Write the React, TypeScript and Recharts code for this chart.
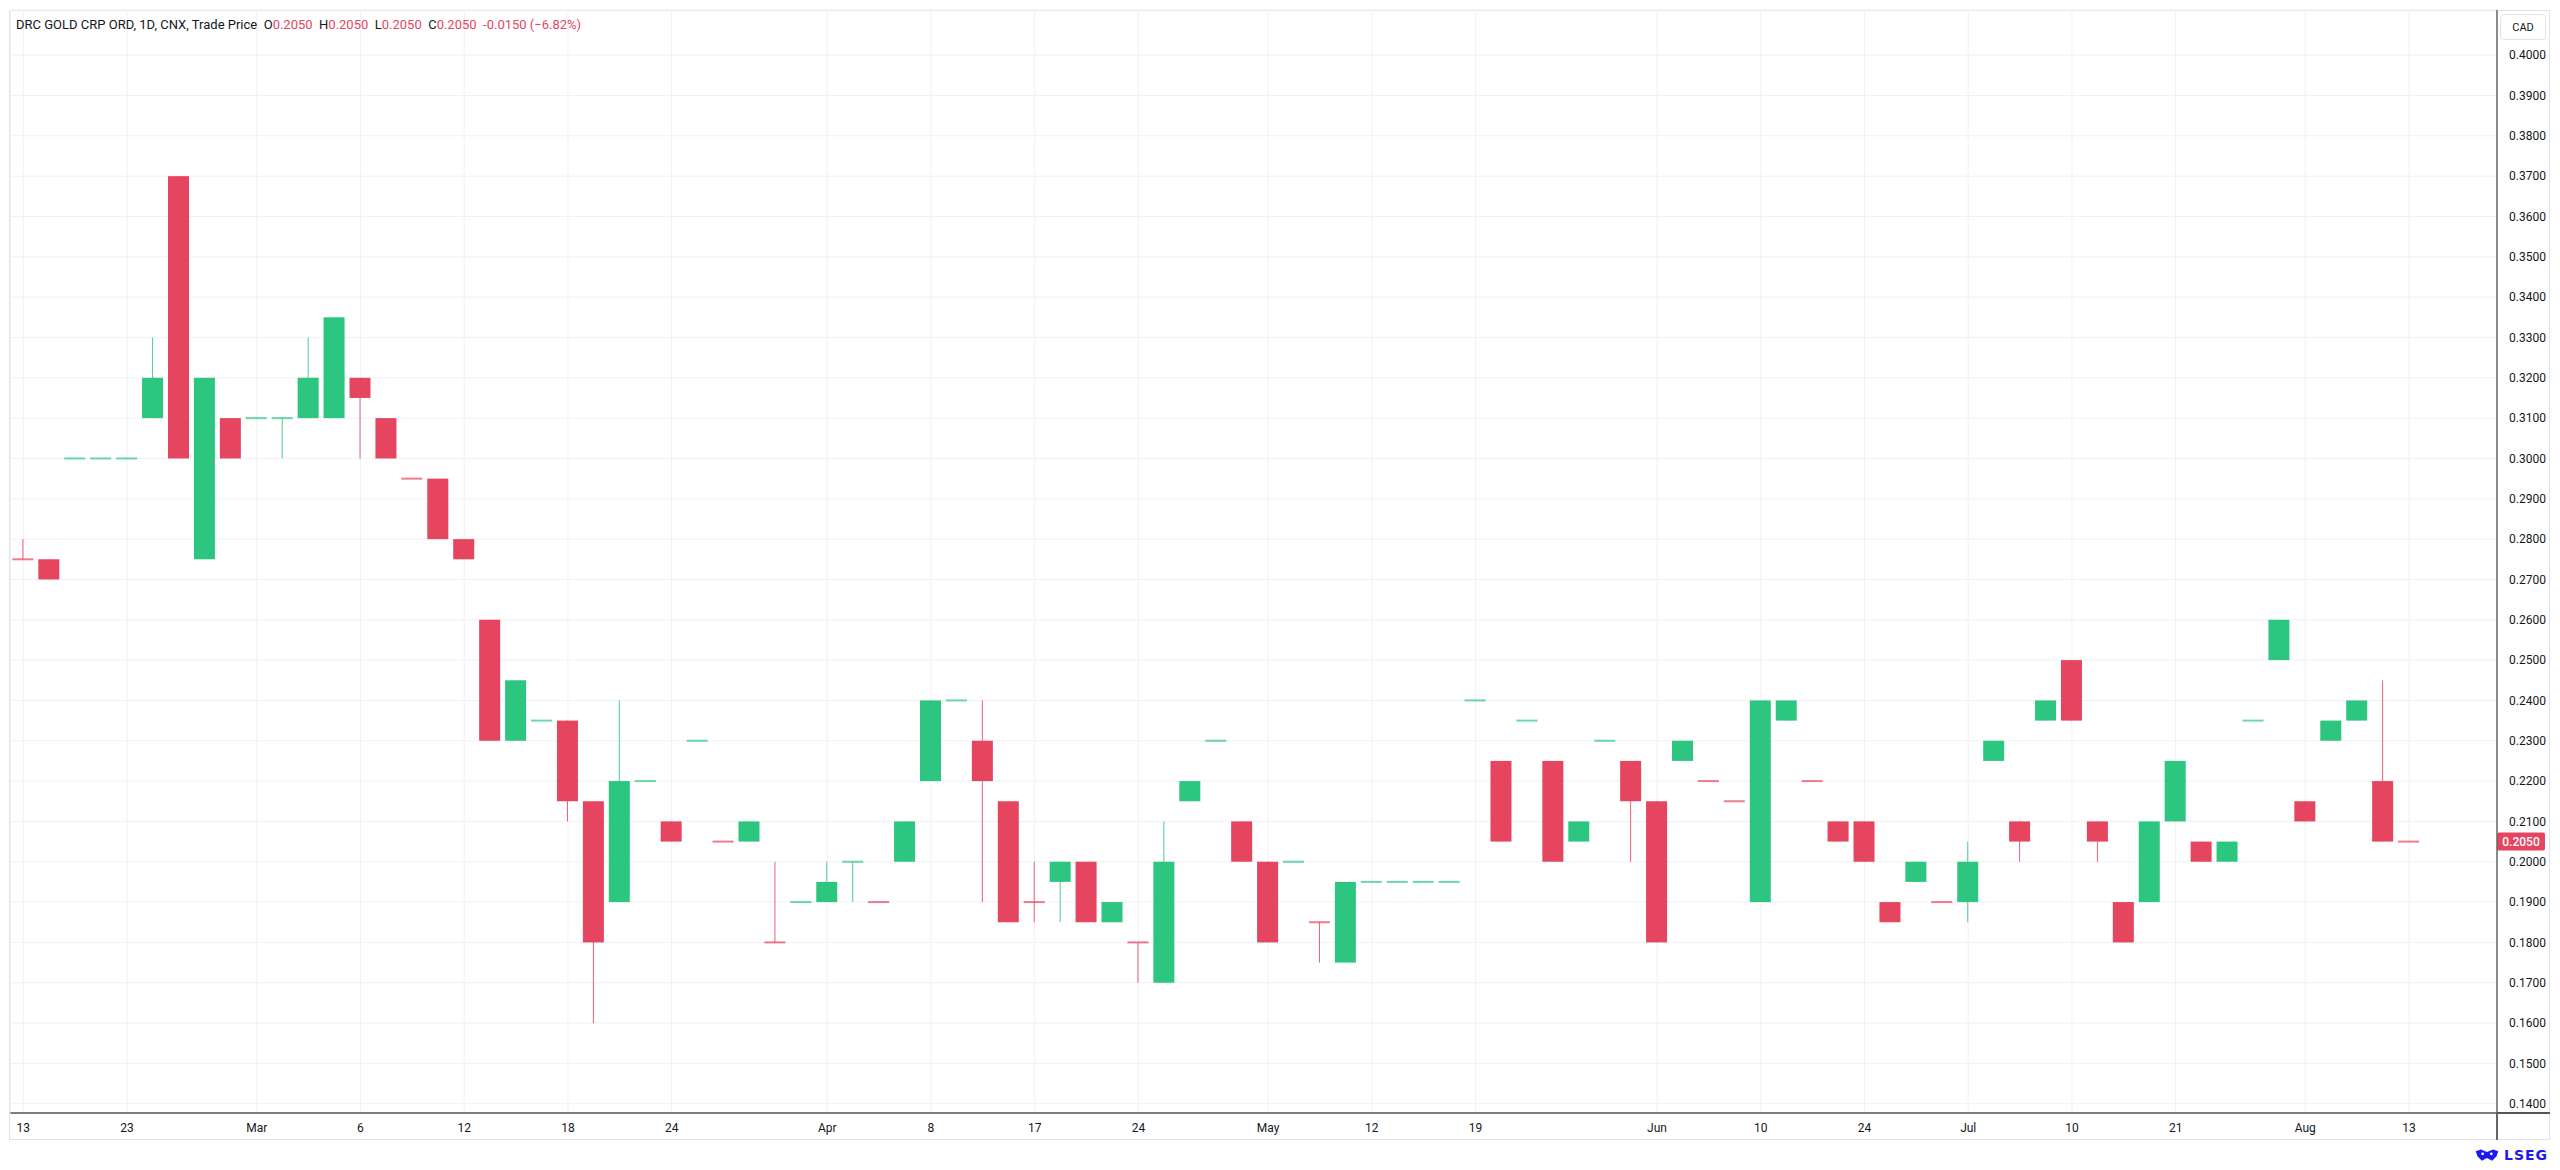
import React from 'react';
import { ComposedChart, Bar, XAxis, YAxis, CartesianGrid, ReferenceLine } from 'recharts';

const UP = '#2DC681';
const DOWN = '#E5455F';
const TEXT = '#131722';

const opens = [
  0.275, 0.275, 0.30, 0.30, 0.30, 0.31, 0.37, 0.275, 0.31, 0.31,
  0.31, 0.31, 0.31, 0.32, 0.31, 0.295, 0.295, 0.28, 0.26, 0.23,
  0.235, 0.235, 0.215, 0.19, 0.22, 0.21, 0.23, 0.205, 0.205, 0.18,
  0.19, 0.19, 0.20, 0.19, 0.20, 0.22, 0.24, 0.23, 0.215, 0.19,
  0.195, 0.20, 0.185, 0.18, 0.17, 0.215, 0.23, 0.21, 0.20, 0.20,
  0.185, 0.175, 0.195, 0.195, 0.195, 0.195, 0.24, 0.225, 0.235, 0.225,
  0.205, 0.23, 0.225, 0.215, 0.225, 0.22, 0.215, 0.19, 0.235, 0.22,
  0.21, 0.21, 0.19, 0.195, 0.19, 0.19, 0.225, 0.21, 0.235, 0.25,
  0.21, 0.19, 0.19, 0.21, 0.205, 0.20, 0.235, 0.25, 0.215, 0.23,
  0.235, 0.22, 0.205,
];
const highs = [
  0.28, 0.275, 0.30, 0.30, 0.30, 0.33, 0.37, 0.32, 0.31, 0.31,
  0.31, 0.33, 0.335, 0.32, 0.31, 0.295, 0.295, 0.28, 0.26, 0.245,
  0.235, 0.235, 0.215, 0.24, 0.22, 0.21, 0.23, 0.205, 0.21, 0.20,
  0.19, 0.20, 0.20, 0.19, 0.21, 0.24, 0.24, 0.24, 0.215, 0.20,
  0.20, 0.20, 0.19, 0.18, 0.21, 0.22, 0.23, 0.21, 0.20, 0.20,
  0.185, 0.195, 0.195, 0.195, 0.195, 0.195, 0.24, 0.225, 0.235, 0.225,
  0.21, 0.23, 0.225, 0.215, 0.23, 0.22, 0.215, 0.24, 0.24, 0.22,
  0.21, 0.21, 0.19, 0.20, 0.19, 0.205, 0.23, 0.21, 0.24, 0.25,
  0.21, 0.19, 0.21, 0.225, 0.205, 0.205, 0.235, 0.26, 0.215, 0.235,
  0.24, 0.245, 0.205,
];
const lows = [
  0.275, 0.27, 0.30, 0.30, 0.30, 0.31, 0.30, 0.275, 0.30, 0.31,
  0.30, 0.31, 0.31, 0.30, 0.30, 0.295, 0.28, 0.275, 0.23, 0.23,
  0.235, 0.21, 0.16, 0.19, 0.22, 0.205, 0.23, 0.205, 0.205, 0.18,
  0.19, 0.19, 0.19, 0.19, 0.20, 0.22, 0.24, 0.19, 0.185, 0.185,
  0.185, 0.185, 0.185, 0.17, 0.17, 0.215, 0.23, 0.20, 0.18, 0.20,
  0.175, 0.175, 0.195, 0.195, 0.195, 0.195, 0.24, 0.205, 0.235, 0.20,
  0.205, 0.23, 0.20, 0.18, 0.225, 0.22, 0.215, 0.19, 0.235, 0.22,
  0.205, 0.20, 0.185, 0.195, 0.19, 0.185, 0.225, 0.20, 0.235, 0.235,
  0.20, 0.18, 0.19, 0.21, 0.20, 0.20, 0.235, 0.25, 0.21, 0.23,
  0.235, 0.205, 0.205,
];
const closes = [
  0.275, 0.27, 0.30, 0.30, 0.30, 0.32, 0.30, 0.32, 0.30, 0.31,
  0.31, 0.32, 0.335, 0.315, 0.30, 0.295, 0.28, 0.275, 0.23, 0.245,
  0.235, 0.215, 0.18, 0.22, 0.22, 0.205, 0.23, 0.205, 0.21, 0.18,
  0.19, 0.195, 0.20, 0.19, 0.21, 0.24, 0.24, 0.22, 0.185, 0.19,
  0.20, 0.185, 0.19, 0.18, 0.20, 0.22, 0.23, 0.20, 0.18, 0.20,
  0.185, 0.195, 0.195, 0.195, 0.195, 0.195, 0.24, 0.205, 0.235, 0.20,
  0.21, 0.23, 0.215, 0.18, 0.23, 0.22, 0.215, 0.24, 0.24, 0.22,
  0.205, 0.20, 0.185, 0.20, 0.19, 0.20, 0.23, 0.205, 0.24, 0.235,
  0.205, 0.18, 0.21, 0.225, 0.20, 0.205, 0.235, 0.26, 0.21, 0.235,
  0.24, 0.205, 0.205,
];
// u = up colour, d = down colour (as drawn)
const directions =
  'dduuuududu' + 'uuuddddddu' + 'udduududud' + 'uuuduuuddd' + 'ududuuuddu' +
  'duuuuuudud' + 'uuddudduud' + 'ddduduudud' + 'dduuduuudu' + 'udd';

const tickSlots = [0, 4, 9, 13, 17, 21, 25, 31, 35, 39, 43, 48, 52, 56, 63, 67, 71, 75, 79, 83, 88, 92];
const tickLabels = ['13', '23', 'Mar', '6', '12', '18', '24', 'Apr', '8', '17', '24', 'May', '12', '19', 'Jun', '10', '24', 'Jul', '10', '21', 'Aug', '13'];
const priceTicks = [
  0.14, 0.15, 0.16, 0.17, 0.18, 0.19, 0.20, 0.21, 0.22, 0.23, 0.24, 0.25, 0.26, 0.27,
  0.28, 0.29, 0.30, 0.31, 0.32, 0.33, 0.34, 0.35, 0.36, 0.37, 0.38, 0.39, 0.40,
];
const priceDomain = [0.1377, 0.4112];

const data = opens.map((o, i) => ({
  slot: i,
  body: [Math.min(o, closes[i]), Math.max(o, closes[i])],
  wick: [lows[i], highs[i]],
  up: directions[i] === 'u',
}));

const lastClose = closes[closes.length - 1];

const W = 2544;
const H = 1132;
const PLOT_RIGHT = 2489;
const FONT = 'Roboto, "Noto Sans", sans-serif';

const BodyShape = (p: any) => {
  const { x, y, width, height, payload } = p;
  const color = payload && payload.up ? UP : DOWN;
  const top = Math.min(y, y + height);
  const h = Math.abs(height);
  if (!(h >= 1.5)) {
    return <rect x={x} y={top - 1} width={width} height={2} fill={color} fillOpacity={0.7} />;
  }
  return <rect x={x} y={top} width={width} height={h} fill={color} />;
};

const WickShape = (p: any) => {
  const { x, y, width, height, payload } = p;
  const color = payload && payload.up ? UP : DOWN;
  const h = Math.abs(height || 0);
  if (h < 0.5) return <g />;
  const top = Math.min(y, y + height);
  return <rect x={x + width / 2 - 0.5} y={top} width={1} height={h} fill={color} fillOpacity={0.85} />;
};

const PriceTag = (p: any) => {
  const vb = p.viewBox || {};
  const y = vb.y;
  return (
    <g>
      <rect x={PLOT_RIGHT} y={y - 9} width={48} height={18} rx={2} fill={DOWN} />
      <text x={PLOT_RIGHT + 24} y={y} textAnchor="middle" dominantBaseline="central" fill="#fff" fontSize={12} fontFamily={FONT} fontWeight={500}>
        {lastClose.toFixed(4)}
      </text>
    </g>
  );
};

const red = { color: DOWN };

export default function App() {
  return (
    <div style={{ position: 'relative', width: W, height: 1154, fontFamily: FONT, background: '#fff' }}>
      <div style={{ position: 'absolute', left: 1, top: 2, width: 2541, height: 1130, border: '1px solid #E0E3EB', boxSizing: 'border-box' }} />
      <ComposedChart width={W} height={H} data={data} margin={{ top: 2, right: 0, bottom: 0, left: 2.4 }}>
        <CartesianGrid xAxisId="main" stroke="#F0F1F4" strokeWidth={1} />
        <XAxis
          xAxisId="main"
          dataKey="slot"
          type="category"
          ticks={tickSlots}
          interval={0}
          tickFormatter={(v: number) => tickLabels[tickSlots.indexOf(v)]}
          padding={{ left: 0, right: 75 }}
          height={27}
          axisLine={{ stroke: '#555', strokeWidth: 1.5 }}
          tickLine={false}
          tickMargin={4}
          tick={{ fontSize: 12, fill: TEXT, fontFamily: FONT }}
        />
        <XAxis xAxisId="wick" dataKey="slot" type="category" hide padding={{ left: 0, right: 75 }} />
        <YAxis
          orientation="right"
          type="number"
          domain={priceDomain}
          allowDataOverflow
          ticks={priceTicks}
          interval={0}
          tickFormatter={(v: number) => v.toFixed(4)}
          width={55}
          axisLine={{ stroke: '#666', strokeWidth: 1.5 }}
          tickLine={false}
          tickMargin={6}
          tick={{ fontSize: 12, fill: TEXT, fontFamily: FONT, textAnchor: 'start' }}
        />
        <Bar xAxisId="wick" dataKey="wick" barSize={21} shape={WickShape} isAnimationActive={false} />
        <Bar xAxisId="main" dataKey="body" barSize={21} shape={BodyShape} isAnimationActive={false} />
        <ReferenceLine xAxisId="main" y={lastClose} stroke="none" ifOverflow="visible" label={PriceTag} />
      </ComposedChart>
      <div style={{ position: 'absolute', left: PLOT_RIGHT - 0.75, top: 1105, width: 1.5, height: 27, background: '#666' }} />
      <div style={{ position: 'absolute', left: PLOT_RIGHT, top: 1104.25, width: 53, height: 1.5, background: '#555' }} />
      <div style={{ position: 'absolute', left: 2492, top: 6, width: 46, height: 26, border: '1px solid #E0E3EB', borderRadius: 4, boxSizing: 'border-box', fontSize: 11, color: TEXT, display: 'flex', alignItems: 'center', justifyContent: 'center', background: '#fff' }}>CAD</div>
      <div style={{ position: 'absolute', left: 8, top: 8, fontSize: 13, color: TEXT, whiteSpace: 'pre', lineHeight: '17px' }}>
        {'DRC GOLD CRP ORD, 1D, CNX, Trade Price  O'}
        <span style={red}>0.2050</span>{'  H'}
        <span style={red}>0.2050</span>{'  L'}
        <span style={red}>0.2050</span>{'  C'}
        <span style={red}>0.2050</span>{'  '}
        <span style={red}>{'-0.0150 (\u22126.82%)'}</span>
      </div>
      <div style={{ position: 'absolute', left: 2466, top: 1139, display: 'flex', alignItems: 'center', gap: 4 }}>
        <svg width="26" height="15" viewBox="0 0 30 16">
          <path d="M2 3 L8 1 L15 4 L22 1 L28 3 L26 9 L21 14 L15 11 L9 14 L4 9 Z" fill="#1A1AF0" />
          <circle cx="10" cy="6" r="1.6" fill="#fff" />
          <circle cx="20" cy="6" r="1.6" fill="#fff" />
        </svg>
        <span style={{ fontSize: 14, fontWeight: 700, color: '#1A1AF0', letterSpacing: 1, fontFamily: '"DejaVu Sans", sans-serif', lineHeight: '16px' }}>LSEG</span>
      </div>
    </div>
  );
}
